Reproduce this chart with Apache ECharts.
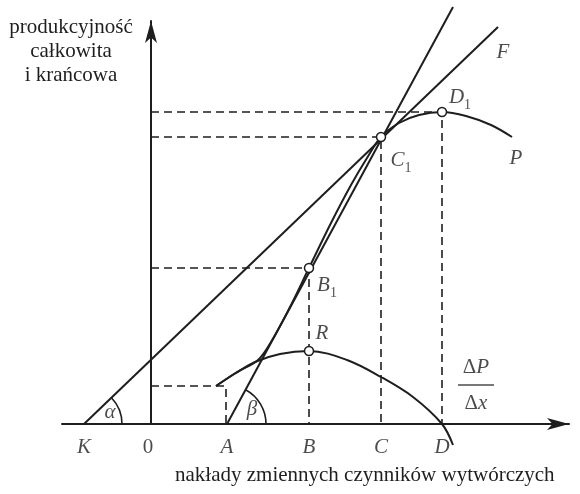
<!DOCTYPE html>
<html>
<head>
<meta charset="utf-8">
<script src="https://cdn.jsdelivr.net/npm/echarts@6/dist/echarts.min.js"></script>
<style>
    html, body { margin: 0; padding: 0; background: #fff; }
    #main { width: 580px; height: 494px; }
</style>
</head>
<body>
<div id="main"></div>
<script>
// letters under the horizontal axis
const axisLetters = ['K', '0', 'A', 'B', 'C', 'D'];
const axisLetterX = [-67, -3, 76, 158, 230, 291];

// total product curve P
const totalX = [65, 86, 107, 120, 138, 158, 180, 200, 216, 230, 248, 268, 291, 315, 340, 361];
const totalY = [38, 52, 64, 82, 115, 156, 201, 239, 266, 287, 301, 309, 312, 308, 299, 287];

// marginal product curve dP/dx
const marginalX = [65, 85, 104, 129, 158, 196, 230, 262, 291, 302];
const marginalY = [38, 51, 62, 70, 73, 64, 47, 27, 0, -21];

// the two rays (from K and from A)
const rayK = [[-67, 0], [347, 397]];
const rayA = [[76, 0], [302, 417]];

// marked points on the curves
const pointNames = ['B1', 'C1', 'D1', 'R'];
const pointX = [158, 230, 291, 158];
const pointY = [156, 287, 312, 73];

// corner of the small dashed box at A
const boxCorner = [75, 38];

initial();

function initial() {
    var chartDom = document.getElementById('main');
    var myChart = echarts.init(chartDom);
    myChart.setOption(buildOption());
}

function buildOption() {
    const ink = '#1e1e1e';
    const serif = 'Liberation Serif';

    const zip = (xs, ys) => xs.map((x, i) => [x, ys[i]]);

    // dashed guides: axis -> point -> axis
    const guidePoints = [[pointX[0], pointY[0]], [pointX[1], pointY[1]], [pointX[2], pointY[2]], boxCorner];
    const guides = guidePoints.map(p => ({ coords: [[0, p[1]], [p[0], p[1]], [p[0], 0]] }));

    const pointLabel = {
        B1: { offset: [18, 17], text: '{i|B}{s|1}' },
        C1: { offset: [20, 23], text: '{i|C}{s|1}' },
        D1: { offset: [18, -15], text: '{i|D}{s|1}' },
        R: { offset: [13, -18], text: '{i|R}' }
    };

    const rich = {
        i: { fontFamily: serif, fontStyle: 'italic', fontSize: 21, color: ink, verticalAlign: 'middle' },
        u: { fontFamily: serif, fontSize: 21, color: ink, verticalAlign: 'middle' },
        s: { fontFamily: serif, fontSize: 14, color: ink, verticalAlign: 'bottom', lineHeight: 30 },
        n: { fontFamily: serif, fontSize: 21, color: ink, lineHeight: 28 },
        ni: { fontFamily: serif, fontStyle: 'italic', fontSize: 21, color: ink, lineHeight: 28 },
        bar: { width: 36, height: 1.5, backgroundColor: ink, lineHeight: 8 }
    };

    const names = [
        { value: rayK[1], label: { offset: [5, 25], formatter: '{i|F}' } },
        { value: [totalX[totalX.length - 1], totalY[totalY.length - 1]], label: { offset: [4, 21], formatter: '{i|P}' } },
        { value: [marginalX[marginalX.length - 1], marginalY[marginalY.length - 1]], label: { offset: [23, -60], formatter: '{n|Δ}{ni|P}\n{bar|}\n{n|Δ}{ni|x}' } },
        { value: rayK[0], label: { offset: [26, -12], formatter: '{i|α}' } },
        { value: rayA[0], label: { offset: [25, -15], formatter: '{i|β}' } }
    ];

    axisLetters.forEach((t, i) => {
        names.push({
            value: [axisLetterX[i], 0],
            label: { offset: [0, 23], formatter: t === '0' ? '{u|0}' : '{i|' + t + '}' }
        });
    });

    pointNames.forEach((n, i) => {
        names.push({ value: [pointX[i], pointY[i]], label: { offset: pointLabel[n].offset, formatter: pointLabel[n].text } });
    });

    const arrowAxis = {
        show: true,
        onZero: true,
        symbol: ['none', 'arrow'],
        symbolSize: [9, 22],
        lineStyle: { color: ink, width: 2 }
    };

    return {
        animation: false,
        backgroundColor: '#fff',
        grid: { left: 62, right: 11, top: 21, bottom: 70 },
        xAxis: {
            type: 'value', min: -89, max: 418,
            axisLine: arrowAxis,
            axisTick: { show: false }, axisLabel: { show: false }, splitLine: { show: false }
        },
        yAxis: {
            type: 'value', min: 0, max: 403,
            axisLine: arrowAxis,
            axisTick: { show: false }, axisLabel: { show: false }, splitLine: { show: false }
        },
        graphic: [
            {
                type: 'text', x: 71, y: 15,
                style: {
                    text: 'produkcyjność\ncałkowita\ni krańcowa',
                    font: '21px "Liberation Serif"', fill: ink,
                    align: 'center', lineHeight: 24
                }
            },
            {
                type: 'text', x: 175, y: 465,
                style: { text: 'nakłady zmiennych czynników wytwórczych', font: '21px "Liberation Serif"', fill: ink }
            }
        ],
        series: [
            {
                name: 'guides', type: 'lines', coordinateSystem: 'cartesian2d', polyline: true,
                silent: true, z: 1,
                lineStyle: { color: ink, width: 1.6, type: [8, 5], opacity: 1 },
                data: guides
            },
            {
                name: 'rays', type: 'lines', coordinateSystem: 'cartesian2d',
                silent: true, z: 2, clip: false,
                lineStyle: { color: ink, width: 2, opacity: 1 },
                data: [{ coords: rayK }, { coords: rayA }]
            },
            {
                name: 'P', type: 'line', data: zip(totalX, totalY), smooth: 0.35,
                showSymbol: false, clip: false, z: 3,
                lineStyle: { color: ink, width: 2 }
            },
            {
                name: 'dP/dx', type: 'line', data: zip(marginalX, marginalY), smooth: 0.35,
                showSymbol: false, clip: false, z: 3,
                lineStyle: { color: ink, width: 2 }
            },
            {
                name: 'angles', type: 'custom', z: 3,
                data: [[rayK[0][0], rayK[1][0], rayK[1][1]], [rayA[0][0], rayA[1][0], rayA[1][1]]],
                renderItem: function (params, api) {
                    const c = api.coord([api.value(0), 0]);
                    const e = api.coord([api.value(1), api.value(2)]);
                    const ang = Math.atan2(e[1] - c[1], e[0] - c[0]);
                    return {
                        type: 'arc',
                        shape: { cx: c[0], cy: c[1], r: params.dataIndex === 0 ? 38 : 39, startAngle: ang, endAngle: 0, clockwise: true },
                        style: { fill: 'none', stroke: ink, lineWidth: 1.6 }
                    };
                }
            },
            {
                name: 'points', type: 'scatter', z: 5,
                data: zip(pointX, pointY),
                symbol: 'circle', symbolSize: 9,
                itemStyle: { color: '#fff', borderColor: ink, borderWidth: 1.5, opacity: 1 }
            },
            {
                name: 'names', type: 'scatter', z: 6, symbolSize: 0, silent: true, clip: false,
                label: { show: true, position: 'inside', align: 'center', verticalAlign: 'middle', rich: rich },
                data: names
            }
        ]
    };
}
</script>
</body>
</html>
